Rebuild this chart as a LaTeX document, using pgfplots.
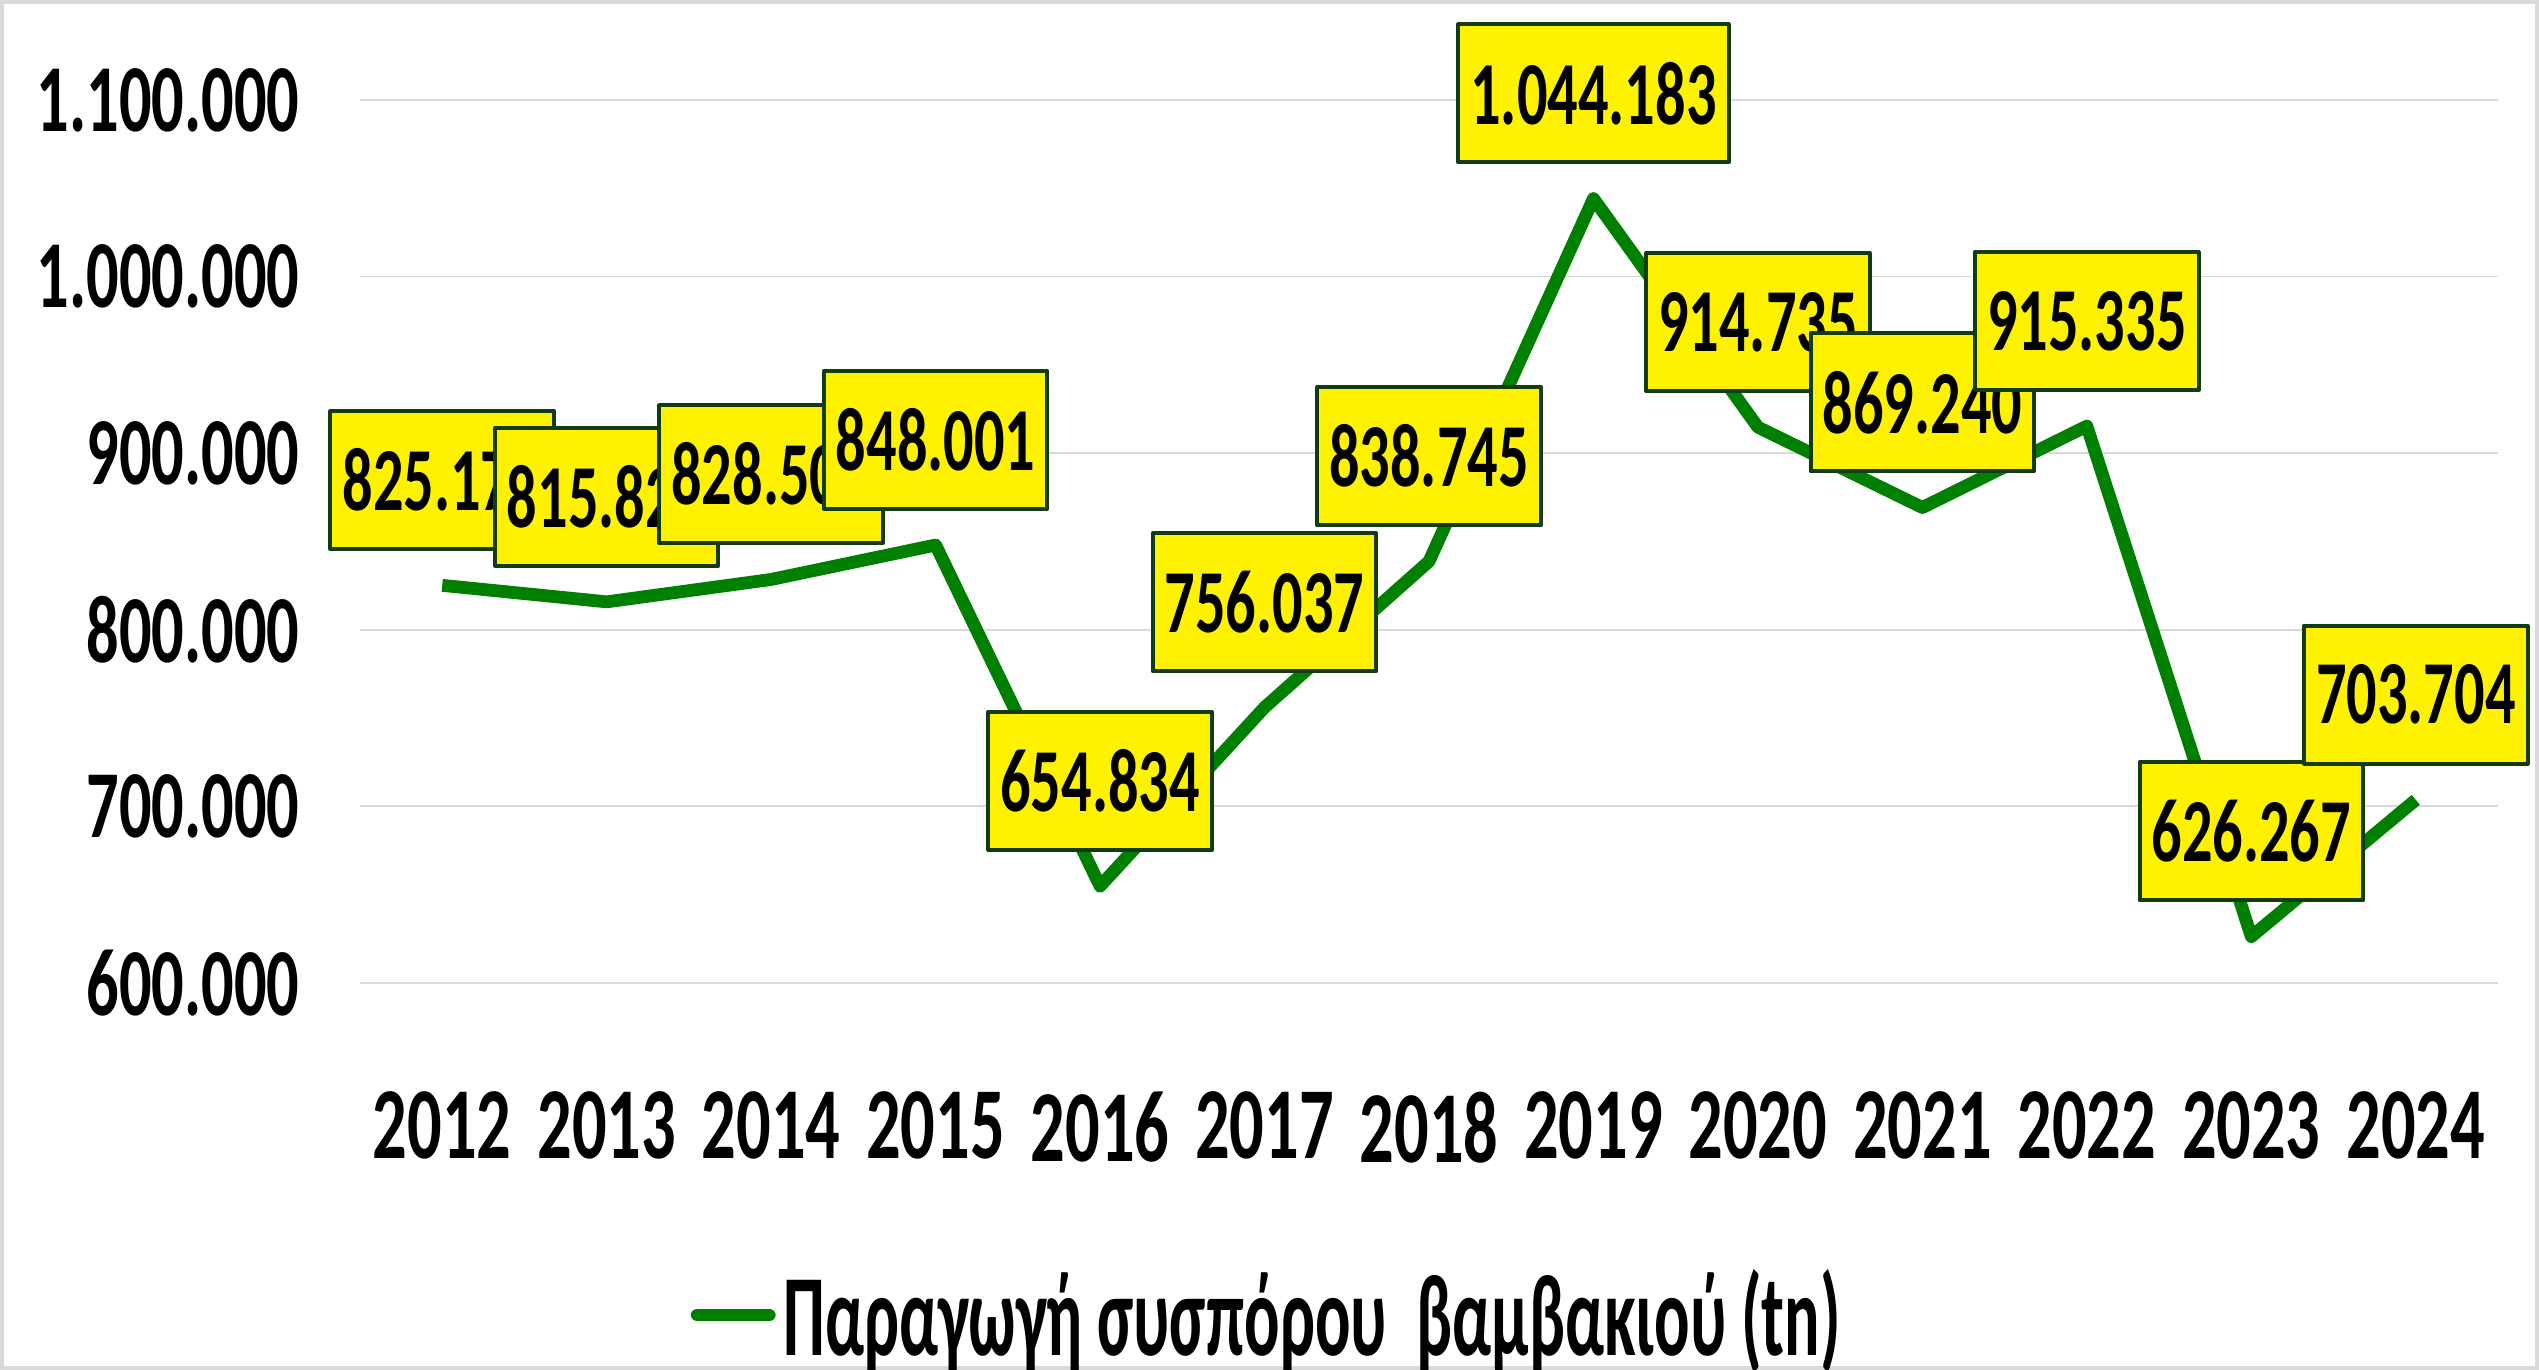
\documentclass[border=0pt]{standalone}
\usepackage{fontspec}
\setmainfont{Carlito}[FakeStretch=0.67]
\newfontfamily\legfont{Carlito}[FakeStretch=0.57]
\usepackage{pgfplots}
\usepackage{pgfplotstable}
\pgfplotsset{compat=1.18}
\definecolor{linegreen}{RGB}{0,128,0}
\definecolor{boxborder}{RGB}{20,60,20}
\definecolor{gridgray}{RGB}{217,217,217}
\definecolor{framegray}{RGB}{217,217,217}
\pgfplotstableread{
x y label
0 825172 825.172
1 815823 815.823
2 828504 828.504
3 848001 848.001
4 654834 654.834
5 756037 756.037
6 838745 838.745
7 1044183 1.044.183
8 914735 914.735
9 869240 869.240
10 915335 915.335
11 626267 626.267
12 703704 703.704
}\datatable
\begin{document}
\begin{tikzpicture}
\useasboundingbox (0,0) rectangle (634.75pt,342.5pt);
\draw[framegray, line width=1pt] (0.5pt,0.5pt) rectangle (634.25pt,342pt);
\begin{axis}[
  at={(90pt,96.75pt)}, anchor=south west,
  scale only axis, width=534.5pt, height=220.75pt,
  xmin=-0.5, xmax=12.5, ymin=600000, ymax=1100000,
  scaled y ticks=false,
  clip=false,
  axis line style={draw=none},
  major tick length=0pt,
  ymajorgrids, grid style={color=gridgray, line width=0.45pt},
  xtick={0,1,2,3,4,5,6,7,8,9,10,11,12},
  xticklabels={2012,2013,2014,2015,2016,2017,2018,2019,2020,2021,2022,2023,2024},
  ytick={600000,700000,800000,900000,1000000,1100000},
  yticklabels={600.000,700.000,800.000,900.000,1.000.000,1.100.000},
  yticklabel style={font=\fontsize{24}{26}\selectfont\bfseries, anchor=east, inner sep=0pt, xshift=-15pt},
  xticklabel style={font=\fontsize{25.5}{27}\selectfont\bfseries, anchor=north, inner sep=0pt, yshift=-27pt},
  legend style={at={(0.4256,-0.376)}, anchor=center, draw=none, fill=none,
    font=\legfont\fontsize{29}{31}\selectfont\bfseries, inner sep=0pt},
  legend image code/.code={\draw[line width=3.2pt, color=linegreen, line cap=round] (0pt,0pt) -- (18pt,0pt);},
]
\addplot[color=linegreen, line width=3.2pt, line join=round, mark=none,
  nodes near coords, point meta=explicit symbolic,
  every node near coord/.style={fill=yellow, draw=boxborder, line width=1pt,
    minimum width=55pt, minimum height=34.5pt, inner xsep=3pt, inner ysep=0pt, anchor=center,
    yshift=26.3pt, text=black, font=\fontsize{22.5}{24}\selectfont\bfseries}
] table[x=x, y=y, meta=label] {\datatable};
\addlegendentry{Παραγωγή συσπόρου\ \ βαμβακιού (tn)}
\end{axis}
\end{tikzpicture}
\end{document}
